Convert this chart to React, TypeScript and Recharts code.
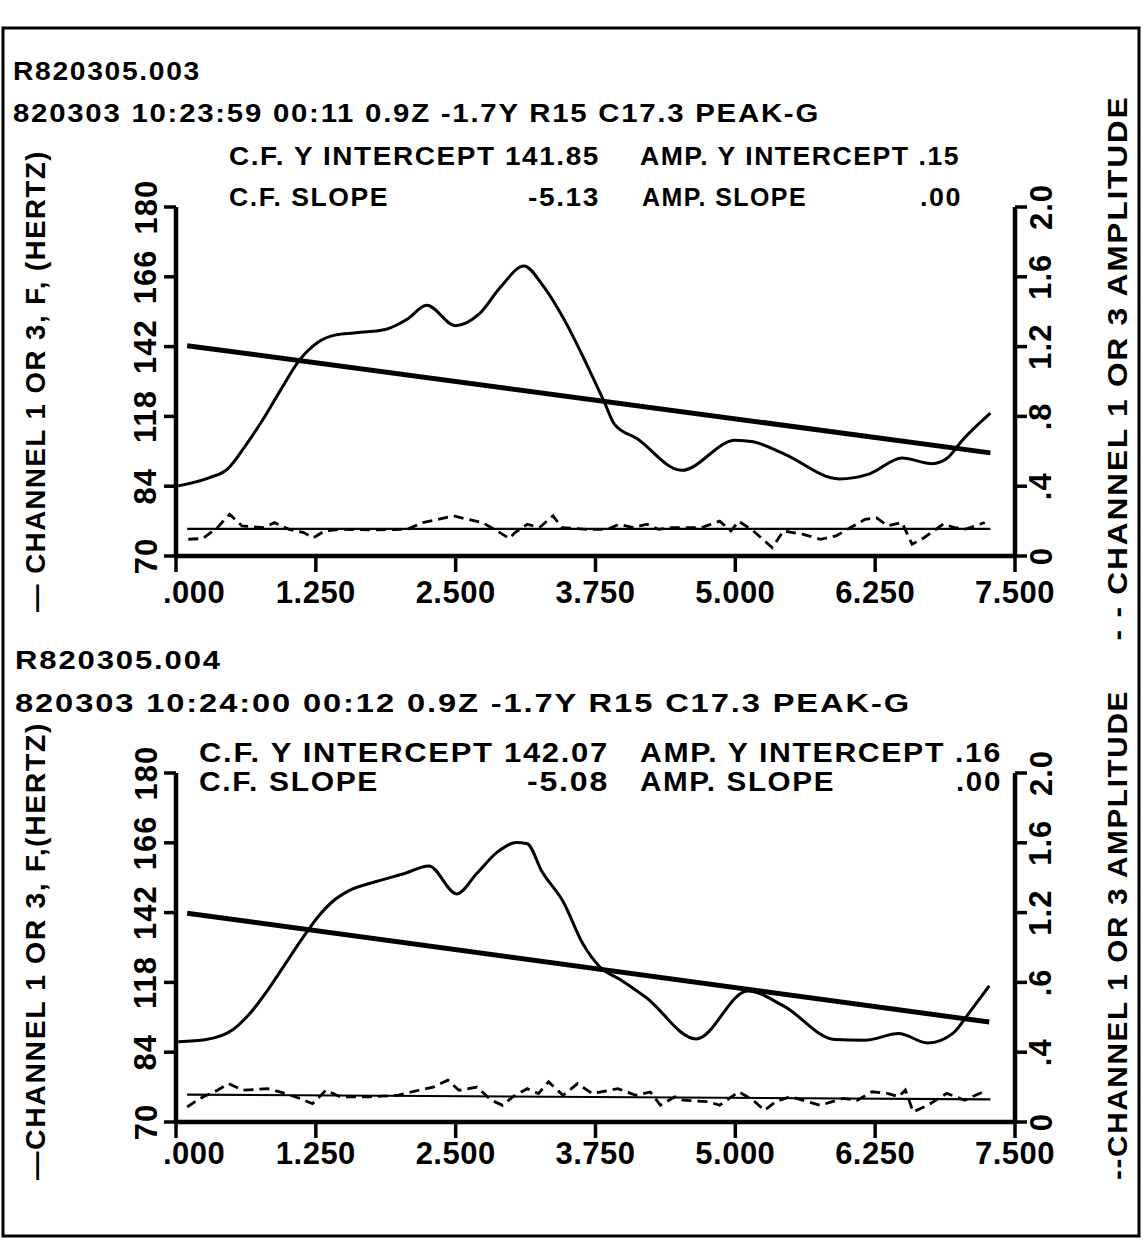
import React from "react";
import { ComposedChart, Line, XAxis, YAxis } from "recharts";

const FONT = "'Liberation Sans', Arial, Helvetica, sans-serif";

// shared axes
const xTicks = [0, 1.25, 2.5, 3.75, 5, 6.25, 7.5];
const xTickLabels = [".000", "1.250", "2.500", "3.750", "5.000", "6.250", "7.500"];
const cfTicks = [70, 92, 114, 136, 158, 180];
const cfTickLabels = ["70", "84", "118", "142", "166", "180"];
const ampTicks = [0, 0.4, 0.8, 1.2, 1.6, 2.0];
const ampTickLabels1 = ["0", ".4", ".8", "1.2", "1.6", "2.0"];
const ampTickLabels2 = ["0", ".4", ".6", "1.2", "1.6", "2.0"];

// panel 1 : R820305.003
const cf1Time = [0.02, 0.3, 0.46, 0.62, 0.78, 0.94, 1.1, 1.27, 1.43, 1.59, 1.87, 2.07, 2.24, 2.5, 2.71, 2.9, 3.11, 3.28, 3.47, 3.67, 3.83, 3.92, 4.12, 4.52, 5.0, 5.16, 5.43, 5.93, 6.2, 6.49, 6.76, 6.89, 7.03, 7.28];
const cf1Hz = [92.1, 94.7, 97.4, 104.7, 113.2, 122.6, 131.6, 137.4, 139.7, 140.3, 141.4, 144.7, 149, 142.6, 146.3, 154.7, 161.4, 155.2, 144.5, 130.5, 118.4, 111.5, 107, 97, 106.5, 106, 102.3, 94.3, 95.9, 100.9, 99.1, 100.7, 106.5, 115];
const cf1FitTime = [0.1, 7.28];
const cf1FitHz = [136.3, 102.5];
const amp1Time = [0.11, 0.24, 0.37, 0.48, 0.59, 0.79, 0.88, 1.01, 1.14, 1.23, 1.33, 1.49, 1.75, 2.07, 2.2, 2.32, 2.48, 2.61, 2.74, 2.87, 2.98, 3.03, 3.14, 3.25, 3.37, 3.45, 3.67, 3.86, 3.96, 4.09, 4.21, 4.31, 4.43, 4.7, 4.86, 4.96, 5.03, 5.16, 5.33, 5.43, 5.6, 5.76, 5.9, 6.03, 6.16, 6.26, 6.36, 6.49, 6.58, 6.69, 6.86, 6.96, 7.06, 7.23];
const amp1 = [0.096, 0.1, 0.163, 0.239, 0.172, 0.163, 0.191, 0.153, 0.134, 0.105, 0.144, 0.153, 0.149, 0.153, 0.191, 0.207, 0.23, 0.21, 0.191, 0.144, 0.1, 0.134, 0.182, 0.163, 0.23, 0.163, 0.153, 0.153, 0.182, 0.163, 0.182, 0.153, 0.163, 0.163, 0.2, 0.144, 0.2, 0.144, 0.048, 0.144, 0.125, 0.096, 0.115, 0.163, 0.21, 0.22, 0.173, 0.192, 0.067, 0.106, 0.183, 0.163, 0.154, 0.192];
const amp1FitTime = [0.1, 7.28];
const amp1Fit = [0.155, 0.155];

// panel 2 : R820305.004
const cf2Time = [0.02, 0.27, 0.5, 0.66, 0.82, 0.98, 1.14, 1.27, 1.4, 1.53, 1.79, 2.05, 2.26, 2.51, 2.69, 2.88, 3.04, 3.14, 3.27, 3.46, 3.64, 3.78, 3.98, 4.2, 4.65, 5.11, 5.43, 5.89, 6.16, 6.46, 6.72, 6.95, 7.09, 7.27];
const cf2Hz = [95.3, 96, 98.9, 104.2, 111.6, 120, 128.4, 134.7, 139.5, 142.6, 145.8, 148.4, 150.7, 141.9, 148.4, 155.3, 158.1, 157.7, 149, 139.5, 126, 119.2, 114.7, 109.3, 96.2, 111.3, 106.6, 96, 95.8, 97.9, 94.9, 98.1, 104.4, 112.9];
const cf2FitTime = [0.1, 7.27];
const cf2FitHz = [135.8, 101.5];
const amp2Time = [0.1, 0.21, 0.37, 0.47, 0.6, 0.82, 0.98, 1.11, 1.22, 1.34, 1.47, 1.72, 1.98, 2.17, 2.3, 2.43, 2.53, 2.69, 2.82, 2.92, 3.01, 3.14, 3.24, 3.33, 3.46, 3.59, 3.72, 3.95, 4.11, 4.24, 4.33, 4.46, 4.53, 4.76, 4.86, 5.03, 5.16, 5.26, 5.36, 5.49, 5.76, 5.96, 6.09, 6.22, 6.36, 6.46, 6.52, 6.59, 6.72, 6.89, 7.05, 7.25];
const amp2 = [0.086, 0.134, 0.182, 0.22, 0.182, 0.191, 0.163, 0.134, 0.105, 0.182, 0.144, 0.144, 0.153, 0.182, 0.2, 0.24, 0.182, 0.2, 0.124, 0.096, 0.144, 0.191, 0.163, 0.23, 0.153, 0.22, 0.163, 0.191, 0.153, 0.172, 0.096, 0.144, 0.125, 0.116, 0.096, 0.173, 0.125, 0.067, 0.116, 0.145, 0.096, 0.135, 0.125, 0.173, 0.164, 0.145, 0.183, 0.058, 0.096, 0.164, 0.125, 0.183];
const amp2FitTime = [0.1, 7.28];
const amp2Fit = [0.157, 0.13];

const zip = (xs: number[], ys: number[]) => xs.map((x, i) => ({ x, y: ys[i] }));
const idx = (arr: number[], v: number) => arr.findIndex((t) => Math.abs(t - v) < 1e-6);

const txt = { fontFamily: FONT, fontWeight: 700, fill: "#000" } as const;

const XTick = (props: any) => {
  const { x, y, payload } = props;
  const label = xTickLabels[idx(xTicks, payload.value)];
  const lead = label.startsWith(".");
  return (
    <text x={lead ? x - 13 : x} y={y} dy="0.72em" textAnchor={lead ? "start" : "middle"} fontSize={31} letterSpacing={0.5} {...txt}>
      {label}
    </text>
  );
};

const makeYTick = (ticks: number[], labels: string[]) => (props: any) => {
  const { x, y, payload } = props;
  return (
    <text x={x} y={y} transform={`rotate(-90 ${x} ${y})`} textAnchor="middle" dominantBaseline="central" fontSize={31} letterSpacing={1} {...txt}>
      {labels[idx(ticks, payload.value)]}
    </text>
  );
};

interface PanelProps {
  top: number;
  cf: { x: number; y: number }[];
  cfFit: { x: number; y: number }[];
  amp: { x: number; y: number }[];
  ampFit: { x: number; y: number }[];
  ampLabels: string[];
  xMargin: number;
}

function Panel({ top, cf, cfFit, amp, ampFit, ampLabels, xMargin }: PanelProps) {
  const axisLine = { stroke: "#000", strokeWidth: 4.5 };
  const tickLine = { stroke: "#000", strokeWidth: 3.5 };
  return (
    <div style={{ position: "absolute", left: 0, top, width: 1143, height: 471 }}>
      <ComposedChart width={1143} height={471} margin={{ top: 57, right: 0, bottom: 0, left: 0 }}>
        <XAxis
          type="number"
          dataKey="x"
          domain={[0, 7.5]}
          ticks={xTicks}
          interval={0}
          allowDataOverflow
          height={65}
          axisLine={axisLine}
          tickLine={tickLine}
          tickSize={16}
          tickMargin={xMargin}
          tick={<XTick />}
        />
        <YAxis
          yAxisId="cf"
          orientation="left"
          width={176}
          domain={[70, 180]}
          ticks={cfTicks}
          interval={0}
          allowDataOverflow
          axisLine={axisLine}
          tickLine={tickLine}
          tickSize={12}
          tickMargin={18}
          tick={makeYTick(cfTicks, cfTickLabels)}
        />
        <YAxis
          yAxisId="amp"
          orientation="right"
          width={128}
          domain={[0, 2]}
          ticks={ampTicks}
          interval={0}
          allowDataOverflow
          axisLine={axisLine}
          tickLine={tickLine}
          tickSize={12}
          tickMargin={14}
          tick={makeYTick(ampTicks, ampLabels)}
        />
        <Line yAxisId="amp" data={ampFit} dataKey="y" type="linear" stroke="#000" strokeWidth={2.2} dot={false} isAnimationActive={false} />
        <Line yAxisId="amp" data={amp} dataKey="y" type="linear" stroke="#000" strokeWidth={2.8} strokeDasharray="10 6" dot={false} isAnimationActive={false} />
        <Line yAxisId="cf" data={cfFit} dataKey="y" type="linear" stroke="#000" strokeWidth={5} dot={false} isAnimationActive={false} />
        <Line yAxisId="cf" data={cf} dataKey="y" type="monotone" stroke="#000" strokeWidth={3} dot={false} isAnimationActive={false} />
      </ComposedChart>
    </div>
  );
}

// header text, stretched to the span it covers in the scan
function T({ x, y, len, size, children, anchor = "start" }: any) {
  return (
    <text x={x} y={y} fontSize={size} textAnchor={anchor} dominantBaseline="central" letterSpacing={1.5} textLength={len} lengthAdjust="spacingAndGlyphs" {...txt}>
      {children}
    </text>
  );
}

function VT({ cx, cy, len, size, children }: any) {
  return (
    <text x={cx} y={cy} transform={`rotate(-90 ${cx} ${cy})`} fontSize={size} textAnchor="middle" dominantBaseline="central" letterSpacing={1.5} textLength={len} lengthAdjust="spacingAndGlyphs" {...txt}>
      {children}
    </text>
  );
}

export default function App() {
  return (
    <div style={{ position: "absolute", left: 0, top: 0, width: 1143, height: 1241, background: "#fff", overflow: "hidden" }}>
      <Panel top={150} cf={zip(cf1Time, cf1Hz)} cfFit={zip(cf1FitTime, cf1FitHz)} amp={zip(amp1Time, amp1)} ampFit={zip(amp1FitTime, amp1Fit)} ampLabels={ampTickLabels1} xMargin={9} />
      <Panel top={716} cf={zip(cf2Time, cf2Hz)} cfFit={zip(cf2FitTime, cf2FitHz)} amp={zip(amp2Time, amp2)} ampFit={zip(amp2FitTime, amp2Fit)} ampLabels={ampTickLabels2} xMargin={4} />
      <svg width={1143} height={1241} style={{ position: "absolute", left: 0, top: 0, pointerEvents: "none" }}>
        <rect x={3} y={28} width={1136} height={1208} fill="none" stroke="#000" strokeWidth={3} />

        <T x={13} y={71} len={188} size={25}>R820305.003</T>
        <T x={13} y={113} len={807} size={25}>820303 10:23:59 00:11 0.9Z -1.7Y R15 C17.3 PEAK-G</T>
        <T x={229} y={156} len={371} size={26}>C.F. Y INTERCEPT 141.85</T>
        <T x={640} y={156} len={320} size={26}>AMP. Y INTERCEPT .15</T>
        <T x={229} y={197} len={160} size={26}>C.F. SLOPE</T>
        <T x={600} y={197} len={72} size={26} anchor="end">-5.13</T>
        <T x={642} y={197} len={165} size={26}>AMP. SLOPE</T>
        <T x={962} y={197} len={42} size={26} anchor="end">.00</T>
        <VT cx={36} cy={381} len={462} size={27}>— CHANNEL 1 OR 3,  F, (HERTZ)</VT>
        <VT cx={1118} cy={368} len={545} size={27}>- - CHANNEL 1 OR 3 AMPLITUDE</VT>

        <T x={15} y={660} len={207} size={25}>R820305.004</T>
        <T x={15} y={703} len={896} size={26}>820303 10:24:00 00:12 0.9Z -1.7Y R15 C17.3 PEAK-G</T>
        <T x={199} y={753} len={410} size={27}>C.F. Y INTERCEPT 142.07</T>
        <T x={640} y={753} len={362} size={27}>AMP. Y INTERCEPT .16</T>
        <T x={199} y={782} len={180} size={27}>C.F. SLOPE</T>
        <T x={609} y={782} len={82} size={27} anchor="end">-5.08</T>
        <T x={640} y={782} len={195} size={27}>AMP. SLOPE</T>
        <T x={1002} y={782} len={46} size={27} anchor="end">.00</T>
        <VT cx={36} cy={951} len={458} size={27}>—CHANNEL 1 OR 3, F,(HERTZ)</VT>
        <VT cx={1118} cy={935} len={490} size={27}>--CHANNEL 1 OR 3 AMPLITUDE</VT>
      </svg>
    </div>
  );
}
